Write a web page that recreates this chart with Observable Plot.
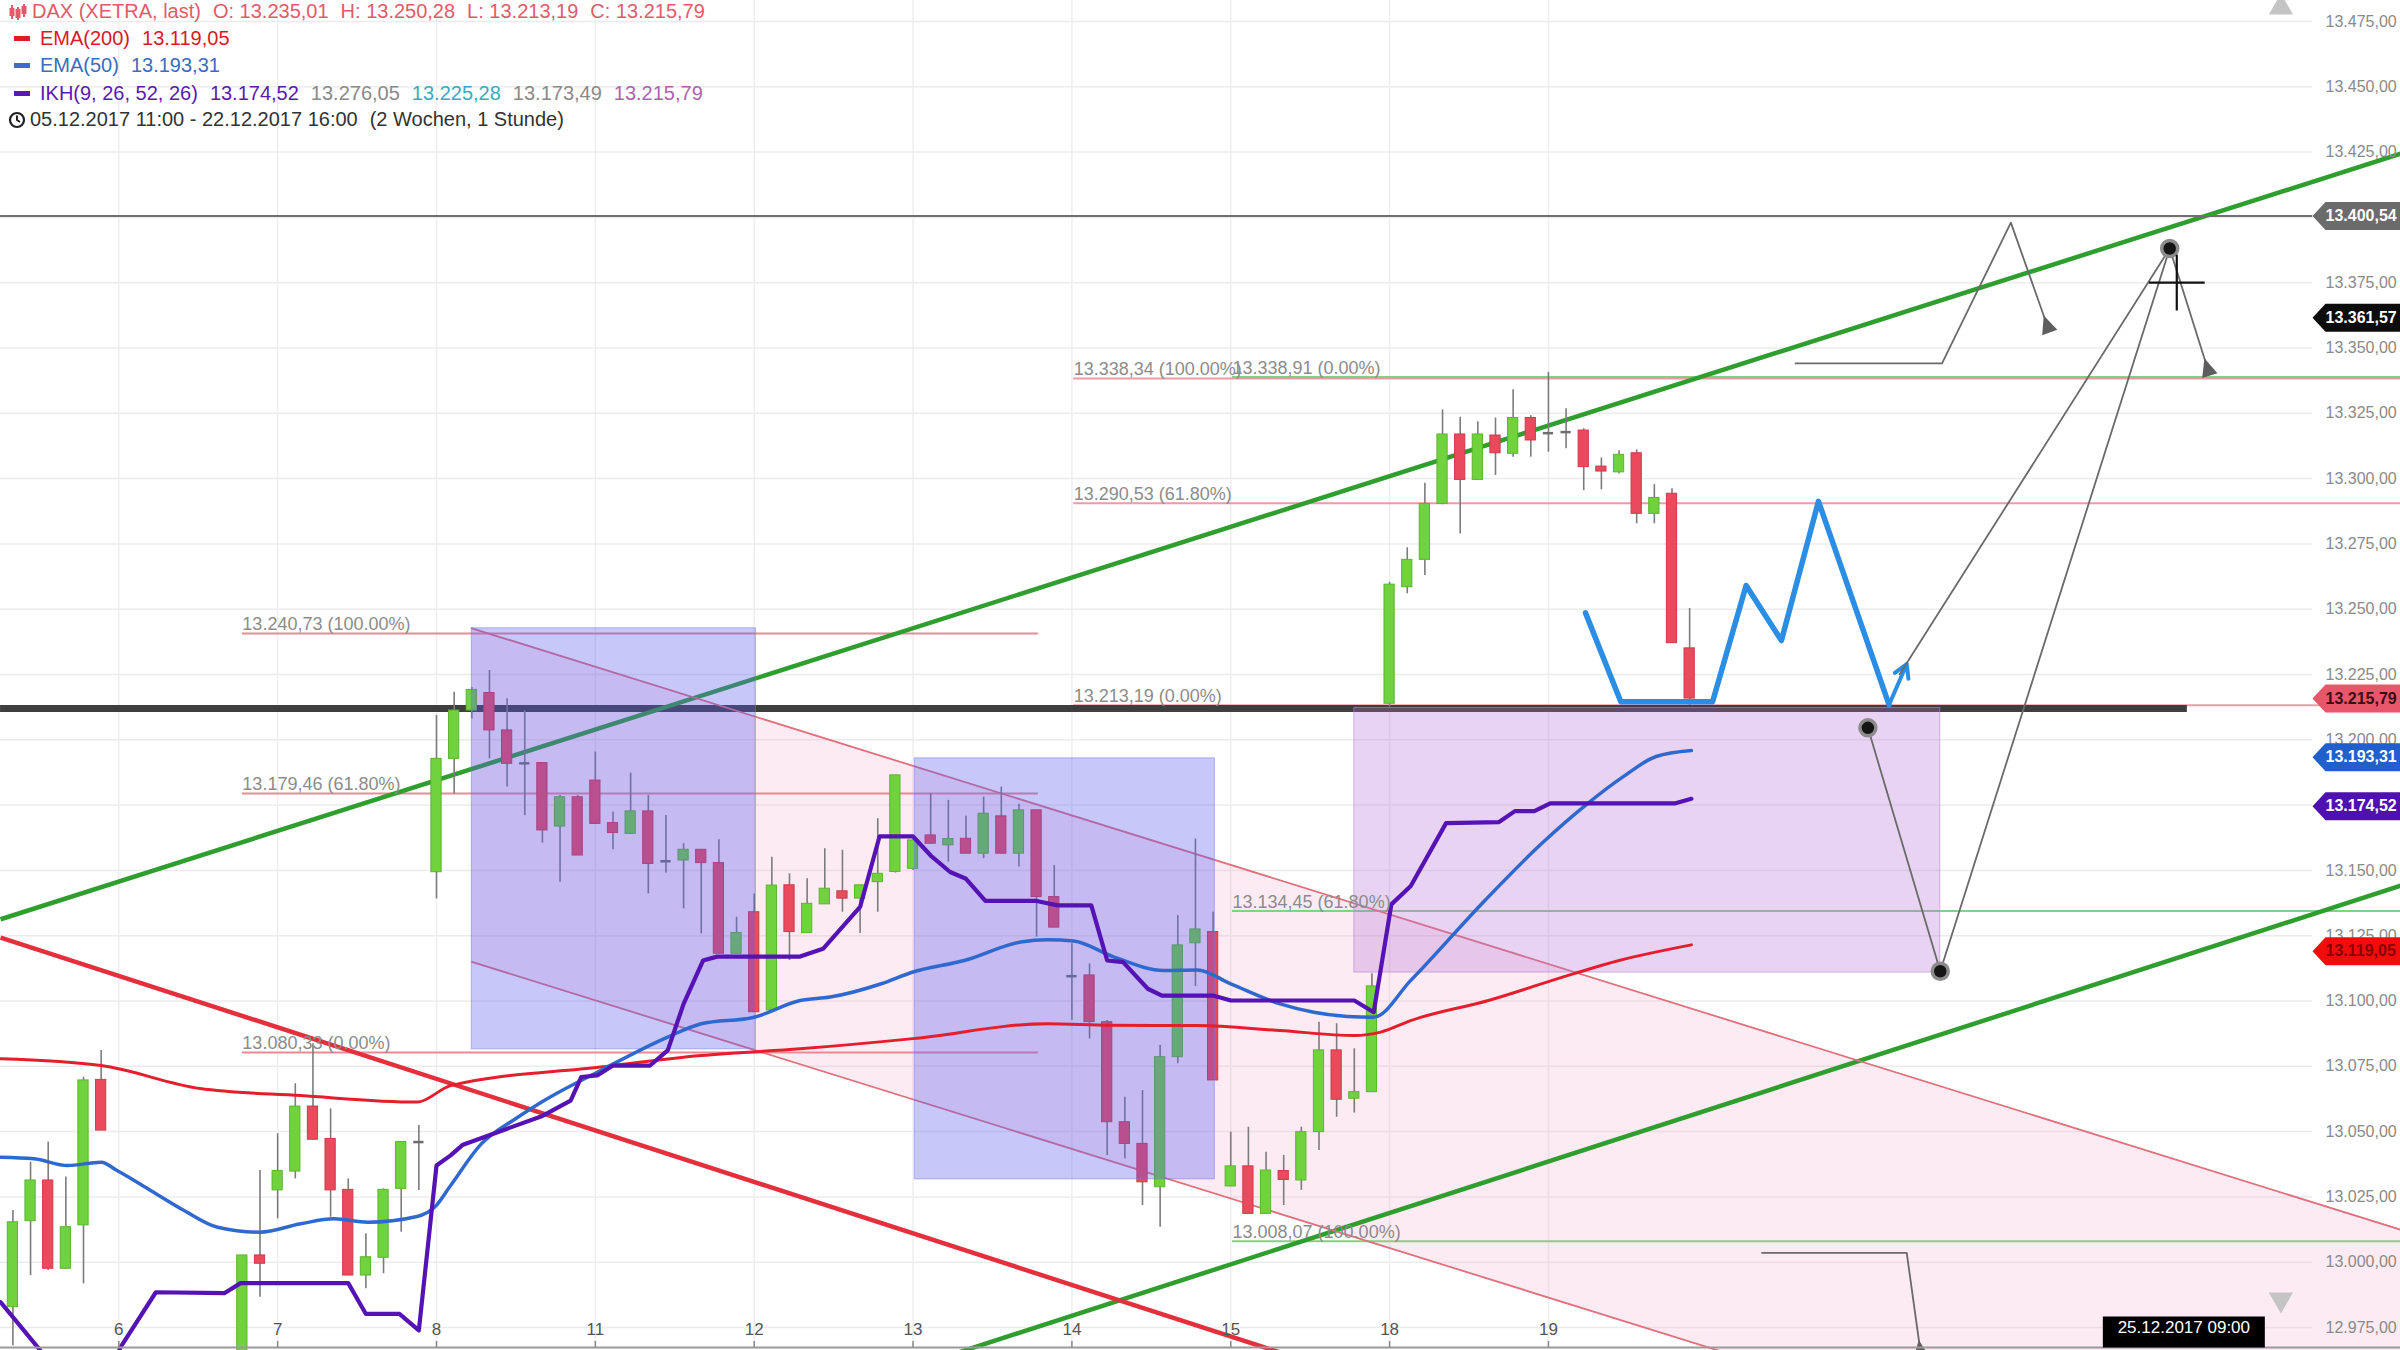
<!DOCTYPE html>
<html>
<head>
<meta charset="utf-8">
<script src="https://cdn.jsdelivr.net/npm/d3@7"></script>
<script src="https://cdn.jsdelivr.net/npm/@observablehq/plot@0.6"></script>
<style>
html,body{margin:0;padding:0;background:#fff;}
#wrap{position:relative;width:2400px;height:1350px;overflow:hidden;font-family:"Liberation Sans",Arial,sans-serif;}
#chart svg{display:block;}
.lrow{position:absolute;white-space:nowrap;font-size:20px;line-height:24px;}
.lrow span+span{margin-left:12px;}
.dash{position:absolute;width:16px;height:5px;}
</style>
</head>
<body>
<div id="wrap"><div id="chart"></div><div id="legend"></div></div>
<script>
// ---------- data ----------
const candleIdx = [3,4,5,6,7,8,16,17,18,19,20,21,22,23,24,25,26,27,28,29,30,31,32,33,34,35,36,37,38,39,40,41,42,43,44,45,46,47,48,49,50,51,52,53,54,55,56,57,58,59,60,61,62,63,64,65,66,67,68,69,70,71,72,73,74,75,76,77,78,79,80,81,82,83,84,85,86,87,88,89,90,91,92,93,94,95,96,97,98];
const openV  = [12982.8,13015.7,13031.3,12997.5,13014.1,13069.8,12960.0,13002.6,13027.5,13034.7,13059.6,13047.2,13027.7,12994.9,13001.7,13028.1,13046.0,13149.3,13192.7,13211.2,13217.9,13203.6,13191.0,13191.1,13166.8,13178.0,13184.4,13168.1,13164.0,13172.6,13153.5,13153.8,13157.9,13152.8,13118.1,13134.0,13096.4,13144.3,13126.0,13137.0,13142.0,13139.2,13145.5,13149.4,13150.6,13163.4,13159.6,13162.1,13156.4,13170.7,13156.4,13173.0,13139.8,13109.5,13109.8,13091.9,13053.6,13045.3,13028.7,13078.5,13122.1,13126.4,13029.0,13036.7,13018.5,13034.9,13031.3,13049.8,13081.1,13062.6,13065.1,13213.8,13258.4,13268.9,13290.3,13316.9,13299.5,13316.5,13309.5,13323.2,13317.4,13317.8,13318.4,13304.6,13302.4,13309.7,13286.5,13294.2,13235.01];
const highV  = [13019.8,13038.3,13046.0,13032.6,13070.8,13081.1,13002.6,13035.1,13049.2,13068.3,13083.6,13058.7,13031.9,13010.9,13028.1,13046.0,13052.3,13209.3,13218.2,13220.0,13226.5,13215.7,13211.2,13191.1,13178.7,13178.7,13195.3,13172.3,13187.2,13178.7,13171.0,13160.2,13157.9,13161.7,13132.1,13141.0,13155.0,13148.7,13146.8,13158.3,13157.7,13144.3,13169.8,13186.4,13161.5,13179.4,13176.8,13170.7,13178.1,13181.9,13175.3,13173.0,13151.9,13121.9,13114.2,13092.5,13063.2,13065.7,13083.0,13132.7,13162.0,13134.0,13049.8,13051.7,13042.1,13040.9,13051.7,13091.9,13091.3,13081.7,13110.4,13260.3,13273.5,13298.2,13326.3,13323.5,13321.8,13323.2,13334.0,13324.1,13340.7,13326.7,13319.1,13307.9,13310.7,13311.0,13297.7,13296.1,13250.28];
const lowV   = [12968.0,12994.9,12996.8,12997.5,12991.7,13050.4,12950.0,12986.6,13016.6,13031.9,13046.6,13017.2,12994.9,12989.8,12995.6,13011.5,13027.5,13139.1,13179.3,13208.0,13192.7,13181.9,13171.0,13160.4,13145.5,13155.7,13167.8,13157.9,13164.0,13141.0,13149.0,13135.3,13125.7,13118.1,13118.1,13095.7,13096.4,13115.5,13126.0,13137.0,13134.0,13125.8,13134.0,13149.0,13150.0,13160.0,13153.2,13156.4,13154.5,13156.4,13151.3,13124.5,13128.1,13092.6,13085.5,13040.9,13039.6,13021.7,13013.4,13076.0,13105.6,13069.6,13029.0,13018.5,13018.5,13021.7,13027.5,13042.8,13055.5,13057.1,13065.1,13212.5,13255.9,13262.9,13290.0,13278.8,13299.5,13301.2,13308.2,13308.2,13310.1,13311.4,13295.4,13295.7,13301.8,13282.7,13282.7,13237.0,13213.19];
const closeV = [13015.3,13031.3,12997.5,13013.4,13069.6,13050.4,13002.6,12999.4,13034.9,13059.6,13046.9,13027.5,12994.9,13001.9,13027.7,13046.0,13046.5,13192.7,13211.2,13219.1,13203.6,13190.8,13190.5,13165.3,13178.0,13155.7,13167.8,13164.3,13172.6,13152.5,13153.5,13157.9,13152.8,13118.1,13126.0,13095.7,13144.2,13126.4,13137.2,13143.0,13139.2,13144.3,13148.7,13186.4,13161.5,13160.2,13162.0,13156.4,13171.7,13156.4,13173.0,13139.8,13128.1,13109.5,13091.9,13053.6,13045.3,13030.6,13078.5,13121.3,13127.4,13069.6,13036.7,13018.5,13035.1,13031.5,13049.8,13081.1,13062.2,13065.1,13105.6,13259.4,13268.9,13290.3,13316.9,13299.5,13316.9,13309.7,13323.2,13314.6,13317.4,13317.8,13304.4,13302.7,13309.1,13286.5,13292.6,13237.0,13215.79];

const ema200X = [2.3,8,13.6,19.3,25.9,27.8,36.3,42,47.6,54,61.6,65.2,70.1,74.8,79,80.5,82.2,86.6,91.4,94,98.1];
const ema200V = [13077.9,13075.3,13066.5,13063.8,13061.3,13067.6,13074.7,13079.1,13081.7,13085.6,13091.3,13090.7,13090.6,13088.7,13086.8,13088.1,13092.5,13100.2,13110.4,13115.5,13121.5];
const ema50X = [2.3,4.2,6.1,8,8.9,10.8,12.7,14.6,17,19.3,21.2,23.1,25.9,26.9,27.8,29.5,31.5,33.1,36.3,40.1,42,45,47.6,49.3,52.2,54,56.9,60.1,61.6,63.1,65.4,68.2,70.1,72,74.8,76.7,78.6,80.1,82.2,86.4,89.6,92.2,94.2,96.1,98.1];
const ema50V = [13040.2,13039.6,13037.0,13038.3,13035.1,13027.5,13019.8,13013.4,13011.5,13014.7,13016.6,13015.3,13017.5,13021.1,13029.4,13045.0,13055.0,13061.9,13073.4,13086.2,13091.3,13093.8,13100.2,13101.5,13106.6,13111.1,13115.5,13122.6,13123.5,13123.0,13116.8,13111.7,13111.9,13106.6,13098.9,13095.7,13094.1,13093.8,13107.9,13138.5,13160.2,13175.5,13185.7,13193.6,13195.9];
const ikhX = [2.3,4.4,5.5,8.5,9.1,11.1,15,15.9,22,23,24.9,26,27,27.8,28.5,33,34.6,35.2,36.1,37,39.1,40.1,41,42.1,42.9,47.6,48.9,51,52.1,54,55,56.1,57,58.1,61,62.2,64.1,65,65.9,67.3,68.1,71,72,79,80.1,81.1,82.2,84.2,87.2,88.1,89.2,90.1,97.2,98.1];
const ikhV = [12984.7,12967.5,12958,12958,12967.5,12988.5,12988.2,12992,12992,12980.2,12980.2,12973.9,13037,13040.9,13045,13056,13061.9,13070.9,13071.5,13075.3,13075.3,13081.1,13098.9,13115.5,13117,13117,13120,13136,13163,13163,13155.7,13149.4,13146.8,13138.3,13138.3,13136.6,13136.6,13115.5,13114.9,13104.7,13102.1,13102.1,13100.2,13100.2,13095.7,13137,13144,13168.1,13168.5,13172.7,13172.7,13175.7,13175.7,13177.4];

// trend lines [x1, y1, x2, y2]
const trendGreen = [[2.3,13131.3,138.3,13424.4],[55,12962.0,138.3,13144.2]];
const trendRed = [[2.3,13124.3,75,12965.0]];
const channelX = [29,138.3], channelHi = [13242.7,13012.4], channelLo = [13115.0,12884.7];

// fibonacci levels
const fibRedA = [13240.73,13179.46,13080.33], fibRedALabels = ["13.240,73 (100.00%)","13.179,46 (61.80%)","13.080,33 (0.00%)"], fibRedASpan = [16.0,61.1];
const fibRedB = [13338.34,13290.53,13213.19], fibRedBLabels = ["13.338,34 (100.00%)","13.290,53 (61.80%)","13.213,19 (0.00%)"], fibRedBSpan = [63.1,138.3];
const fibGreen = [13338.91,13134.45,13008.07], fibGreenLabels = ["13.338,91 (0.00%)","13.134,45 (61.80%)","13.008,07 (100.00%)"], fibGreenSpan = [72.1,138.3];

// boxes
const blueBoxX1 = [29.0,54.1], blueBoxX2 = [45.1,71.1], blueBoxY1 = [13081.5,13031.7], blueBoxY2 = [13242.7,13192.9];
const violetBox = {x1:79.0, x2:112.2, y1:13110.9, y2:13212.2};

// horizontal lines
const supportLevel = 13212, supportSpan = [2.3,126.2];
const grayLevel = 13400.54, graySpan = [2.3,133.3];

// hand drawings
const zigX = [92.1,94.1,99.3,101.2,103.2,105.3,109.3];
const zigY = [13248.6,13214.6,13214.6,13259.1,13238.0,13291.3,13213.4];
const zigArrow = [109.3,13213.4,110.3,13229.0];
const topPathX = [104.0,112.3,116.2,118.1], topPathY = [13344.1,13344.1,13398.0,13361.7];
const lowPathX = [102.1,110.3,111.0], lowPathY = [13003.6,13003.6,12969.5];
const projX = [108.1,112.2,125.2,127.2], projY = [13204.6,13111.4,13388.1,13345.3];
const dotX = [108.1,112.2,125.2], dotY = [13204.6,13111.4,13388.1];
const proj2X = [109.9,125.2], proj2Y = [13225.1,13388.1];
const crossX = [125.6], crossY = [13375];

// axes
const dayIdx = [9,18,27,36,45,54,63,72,81,90];
const dayLabels = ["6","7","8","11","12","13","14","15","18","19"];
const yTicks = [12975,13000,13025,13050,13075,13100,13125,13150,13175,13200,13225,13250,13275,13300,13325,13350,13375,13400,13425,13450,13475];
const tagValues = [13400.54,13361.57,13215.79,13193.31,13174.52,13119.05];
const tagBg = ["#6b6b6b","#0c0c0c","#e8566a","#2160cc","#4e10b0","#f20d0d"];
const tagFg = ["#ffffff","#ffffff","#3a0d12","#ffffff","#ffffff","#8a0000"];
const dateTagX = [126], dateTagLabel = ["25.12.2017 09:00"];
const scrollX = [131.5];
const ikhLegendValues = [13174.52,13276.05,13225.28,13173.49,13215.79];
const ikhLegendColors = ["#5a1ab0","#8a8a8a","#3aabbf","#8a8a8a","#b062b0"];

// ---------- build ----------
const fmt = d3.formatLocale({decimal:",",thousands:".",grouping:[3],currency:["","€"]}).format(",.2f");
const W = 2400, H = 1350, MR = 88, MB = 3;
const xDomain = [2.297,133.29], yDomain = [12967.35,13483.04];
const kx = (W-MR)/(xDomain[1]-xDomain[0]), ky = (H-MB)/(yDomain[1]-yDomain[0]);
const candles = candleIdx.map((i,k)=>({i,o:openV[k],h:highV[k],l:lowV[k],c:closeV[k]}));
const up = candles.filter(d=>d.c-d.o>0.8), down = candles.filter(d=>d.o-d.c>0.8), doji = candles.filter(d=>Math.abs(d.c-d.o)<=0.8);
const hw = 0.29;
const pts = (xs,ys)=>xs.map((x,k)=>({x,y:ys[k]}));
const seg = a=>({x1:a[0],y1:a[1],x2:a[2],y2:a[3]});
const headOf = (xs,ys)=>{const n=xs.length;const sx=(xs[n-1]-xs[n-2])*kx, sy=(ys[n-1]-ys[n-2])*ky;return {x:xs[n-1],y:ys[n-1],rot:Math.atan2(sx,sy)*180/Math.PI};};
const heads = [headOf(topPathX,topPathY),headOf(lowPathX,lowPathY),headOf(projX,projY)];
const fibRows = (vals,labels,span)=>vals.map((v,k)=>({v,label:labels[k],a:span[0],b:span[1]}));
const fibA = fibRows(fibRedA,fibRedALabels,fibRedASpan), fibB = fibRows(fibRedB,fibRedBLabels,fibRedBSpan), fibC = fibRows(fibGreen,fibGreenLabels,fibGreenSpan);
const blueBoxes = blueBoxX1.map((x,k)=>({x1:x,x2:blueBoxX2[k],y1:blueBoxY1[k],y2:blueBoxY2[k]}));
const channel = channelX.map((x,k)=>({x,lo:channelLo[k],hi:channelHi[k]}));
const tags = tagValues.map((v,k)=>({v,label:fmt(v),bg:tagBg[k],fg:tagFg[k]}));
const dateTags = dateTagX.map((x,k)=>({x,label:dateTagLabel[k]}));
const days = dayIdx.map((x,k)=>({x,label:dayLabels[k]}));

const tagShape = {draw(ctx){ctx.moveTo(0,0);ctx.lineTo(13,-14);ctx.lineTo(100,-14);ctx.lineTo(100,14);ctx.lineTo(13,14);ctx.closePath();}};
const dateShape = {draw(ctx){ctx.moveTo(-81,-31);ctx.lineTo(81,-31);ctx.lineTo(81,0);ctx.lineTo(-81,0);ctx.closePath();}};
const headShape = {draw(ctx){ctx.moveTo(0,2);ctx.lineTo(-8,-16);ctx.lineTo(8,-16);ctx.closePath();}};
const FONT = "Liberation Sans, Arial, sans-serif";

const chart = Plot.plot({
  width:W, height:H,
  marginLeft:0, marginRight:MR, marginTop:0, marginBottom:MB,
  x:{domain:xDomain, axis:null},
  y:{domain:yDomain, axis:null},
  style:{fontFamily:FONT, background:"#fff", overflow:"hidden"},
  marks:[
    Plot.gridY(yTicks,{stroke:"#ececec",strokeOpacity:1,strokeWidth:1.5}),
    Plot.gridX(dayIdx,{stroke:"#eeeeee",strokeOpacity:1,strokeWidth:1.5}),
    Plot.areaY(channel,{x:"x",y1:"lo",y2:"hi",fill:"#f2a2c2",fillOpacity:0.22}),
    Plot.ruleY(fibA,{y:"v",x1:"a",x2:"b",stroke:"#ea8a96",strokeWidth:2}),
    Plot.ruleY(fibC,{y:"v",x1:"a",x2:"b",stroke:"#86cf86",strokeWidth:2}),
    Plot.ruleY(fibB,{y:"v",x1:"a",x2:"b",stroke:"#ea8a96",strokeWidth:2,strokeOpacity:0.85}),
    Plot.ruleY([supportLevel],{y:d=>d,x1:supportSpan[0],x2:supportSpan[1],stroke:"#3e3e3e",strokeWidth:7}),
    Plot.link(trendGreen.map(seg),{x1:"x1",y1:"y1",x2:"x2",y2:"y2",stroke:"#2f9e2f",strokeWidth:4.5}),
    Plot.link(trendRed.map(seg),{x1:"x1",y1:"y1",x2:"x2",y2:"y2",stroke:"#e3303c",strokeWidth:4.5}),
    Plot.line(channel,{x:"x",y:"hi",stroke:"#e0707e",strokeWidth:1.8}),
    Plot.line(channel,{x:"x",y:"lo",stroke:"#e0707e",strokeWidth:1.8}),
    Plot.ruleX(candles,{x:"i",y1:"l",y2:"h",stroke:"#7c7c7c",strokeWidth:1.6}),
    Plot.rect(up,{x1:d=>d.i-hw,x2:d=>d.i+hw,y1:"o",y2:"c",fill:"#70d23c",stroke:"#5cb530",strokeWidth:1}),
    Plot.rect(down,{x1:d=>d.i-hw,x2:d=>d.i+hw,y1:"o",y2:"c",fill:"#ea4a5c",stroke:"#cf3a4c",strokeWidth:1}),
    Plot.ruleY(doji,{y:"o",x1:d=>d.i-hw,x2:d=>d.i+hw,stroke:"#6e6e6e",strokeWidth:2.5}),
    Plot.rect(blueBoxes,{x1:"x1",x2:"x2",y1:"y1",y2:"y2",fill:"#5a5af0",fillOpacity:0.34,stroke:"#7a7ae0",strokeOpacity:0.5}),
    Plot.rect([violetBox],{x1:"x1",x2:"x2",y1:"y1",y2:"y2",fill:"#b472d4",fillOpacity:0.3,stroke:"#b888d0",strokeOpacity:0.6}),
    Plot.line(pts(ema200X,ema200V),{x:"x",y:"y",stroke:"#e41e2c",strokeWidth:3,curve:"monotone-x"}),
    Plot.line(pts(ema50X,ema50V),{x:"x",y:"y",stroke:"#2f68cf",strokeWidth:3.5,curve:"monotone-x"}),
    Plot.line(pts(ikhX,ikhV),{x:"x",y:"y",stroke:"#5512b4",strokeWidth:4.2}),
    Plot.ruleY([grayLevel],{y:d=>d,x1:graySpan[0],x2:graySpan[1],stroke:"#707070",strokeWidth:2}),
    Plot.line(pts(zigX,zigY),{x:"x",y:"y",stroke:"#2b8de3",strokeWidth:5.5}),
    Plot.arrow([seg(zigArrow)],{x1:"x1",y1:"y1",x2:"x2",y2:"y2",stroke:"#2b8de3",strokeWidth:4,headLength:18}),
    Plot.line(pts(topPathX,topPathY),{x:"x",y:"y",stroke:"#6a6a6a",strokeWidth:1.8}),
    Plot.line(pts(lowPathX,lowPathY),{x:"x",y:"y",stroke:"#6a6a6a",strokeWidth:1.8}),
    Plot.line(pts(projX,projY),{x:"x",y:"y",stroke:"#6a6a6a",strokeWidth:1.8}),
    Plot.line(pts(proj2X,proj2Y),{x:"x",y:"y",stroke:"#6a6a6a",strokeWidth:1.8}),
    Plot.dot(heads,{x:"x",y:"y",rotate:"rot",symbol:headShape,fill:"#5e5e5e",r:5}),
    Plot.dot(pts(dotX,dotY),{x:"x",y:"y",r:8,fill:"#151515",stroke:"#8c8c8c",strokeWidth:3.5}),
    Plot.dot(pts(crossX,crossY),{x:"x",y:"y",symbol:"plus",r:18,stroke:"#111",strokeWidth:2.2}),
    Plot.text(fibA,{x:"a",y:"v",text:"label",textAnchor:"start",lineAnchor:"bottom",dy:-3,fill:"#8c8c8c",fontSize:18}),
    Plot.text(fibB,{x:"a",y:"v",text:"label",textAnchor:"start",lineAnchor:"bottom",dy:-3,fill:"#8c8c8c",fontSize:18}),
    Plot.text(fibC,{x:"a",y:"v",text:"label",textAnchor:"start",lineAnchor:"bottom",dy:-3,fill:"#8c8c8c",fontSize:18}),
    Plot.axisY(yTicks,{anchor:"right",tickFormat:fmt,tickSize:0,tickPadding:13,fontSize:16,color:"#8a8a8a"}),
    Plot.ruleY([yDomain[0]],{y:d=>d,x1:xDomain[0],x2:138.3,stroke:"#9a9a9a",strokeWidth:2}),
    Plot.ruleX(dayIdx,{x:d=>d,insetTop:1341,stroke:"#888",strokeWidth:1.5}),
    Plot.text(days,{x:"x",text:"label",frameAnchor:"bottom",dy:-13,fill:"#555",fontSize:17}),
    Plot.dot(tags,{y:"v",frameAnchor:"right",symbol:tagShape,fill:"bg",r:5}),
    Plot.text(tags,{y:"v",frameAnchor:"right",text:"label",textAnchor:"start",dx:13,fill:"fg",fontWeight:"bold",fontSize:16}),
    Plot.dot(dateTags,{x:"x",frameAnchor:"bottom",symbol:dateShape,fill:"#000",r:5}),
    Plot.text(dateTags,{x:"x",frameAnchor:"bottom",text:"label",dy:-15,fill:"#fff",fontSize:17}),
    Plot.dot(scrollX,{x:d=>d,frameAnchor:"top",symbol:"triangle",r:9,fill:"#c4c4c4",dy:7}),
    Plot.dot(scrollX,{x:d=>d,frameAnchor:"bottom",symbol:"triangle",rotate:180,r:9,fill:"#c4c4c4",dy:-48})
  ]
});
document.getElementById("chart").appendChild(chart);

// ---------- legend overlay ----------
const last = candles[candles.length-1];
const legend = document.getElementById("legend");
const rowsTop = [-1,26,53,81,107];
legend.innerHTML = `
<div class="lrow" style="left:8px;top:${rowsTop[0]}px;color:#e25b6b">
  <svg width="20" height="18" style="vertical-align:-3px;margin-right:4px"><g stroke="#e25b6b" stroke-width="2" fill="#e25b6b"><line x1="4" y1="2" x2="4" y2="16"/><rect x="2.5" y="6" width="3" height="6"/><line x1="10" y1="4" x2="10" y2="17"/><rect x="8.5" y="7" width="3" height="7"/><line x1="16" y1="1" x2="16" y2="14"/><rect x="14.5" y="4" width="3" height="6"/></g></svg><span style="margin-left:0">DAX (XETRA, last)</span><span>O: ${fmt(last.o)}</span><span>H: ${fmt(last.h)}</span><span>L: ${fmt(last.l)}</span><span>C: ${fmt(last.c)}</span>
</div>
<div class="dash" style="left:14px;top:${rowsTop[1]+10}px;background:#e01a26"></div>
<div class="lrow" style="left:40px;top:${rowsTop[1]}px;color:#d81a28"><span>EMA(200)</span><span>${fmt(tagValues[5])}</span></div>
<div class="dash" style="left:14px;top:${rowsTop[2]+10}px;background:#3a6cc8"></div>
<div class="lrow" style="left:40px;top:${rowsTop[2]}px;color:#3a6cc0"><span>EMA(50)</span><span>${fmt(tagValues[3])}</span></div>
<div class="dash" style="left:14px;top:${rowsTop[3]+10}px;background:#5a1ab0"></div>
<div class="lrow" style="left:40px;top:${rowsTop[3]}px;color:#5a1ab0"><span>IKH(9, 26, 52, 26)</span>${ikhLegendValues.map((v,k)=>`<span style="color:${ikhLegendColors[k]}">${fmt(v)}</span>`).join("")}</div>
<div class="lrow" style="left:8px;top:${rowsTop[4]}px;color:#333">
  <svg width="18" height="18" style="vertical-align:-3px;margin-right:4px"><circle cx="9" cy="9" r="7" fill="none" stroke="#222" stroke-width="2.2"/><path d="M9 4.5V9L12 11" fill="none" stroke="#222" stroke-width="2"/></svg><span style="margin-left:0">05.12.2017 11:00 - 22.12.2017 16:00</span><span>(2 Wochen, 1 Stunde)</span>
</div>`;
</script>
</body>
</html>
